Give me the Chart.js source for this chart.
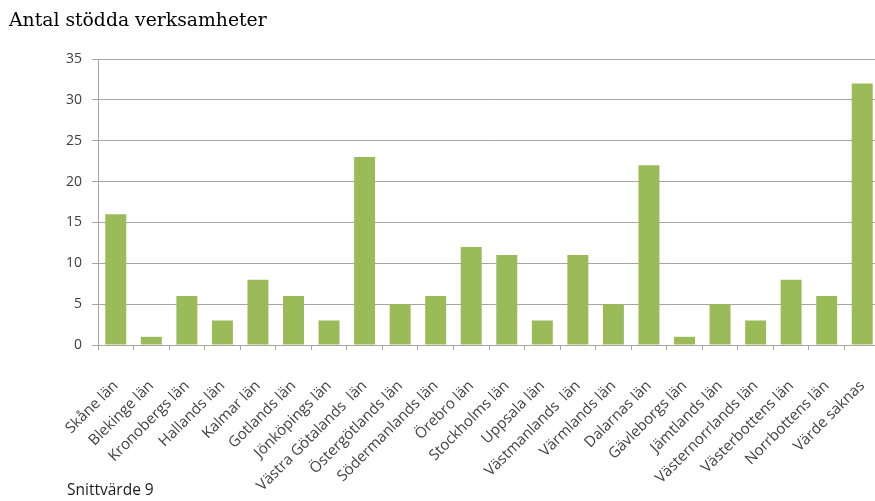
<!DOCTYPE html>
<html>
<head>
<meta charset="utf-8">
<script src="https://cdn.jsdelivr.net/npm/chart.js@4/dist/chart.umd.min.js"></script>
<style>
  html, body { margin: 0; padding: 0; background: #fff; overflow: hidden; }
  #wrap { position: relative; width: 875px; height: 501px; overflow: hidden; }
  #chartBox { position: absolute; left: 0; top: 0; width: 880px; height: 501px; }
  #title { position: absolute; left: 9px; top: 11px; font: 18.8px/1 "DejaVu Serif", serif; color: #000; white-space: nowrap; }
  #note { position: absolute; left: 67px; top: 482px; font: 15.5px/1 "Open Sans", sans-serif; color: #1a1a1a; white-space: nowrap; }
</style>
</head>
<body>
<div id="wrap">
  <div id="chartBox"><canvas id="c" width="880" height="501"></canvas></div>
  <div id="title">Antal stödda verksamheter</div>
  <div id="note">Snittvärde 9</div>
</div>
<script>
// Counties (län) and number of supported businesses per county
const categories = [
  "Skåne län", "Blekinge län", "Kronobergs län", "Hallands län", "Kalmar län",
  "Gotlands län", "Jönköpings län", "Västra Götalands  län", "Östergötlands län",
  "Södermanlands län", "Örebro län", "Stockholms län", "Uppsala län",
  "Västmanlands  län", "Värmlands län", "Dalarnas län", "Gävleborgs län",
  "Jämtlands län", "Västernorrlands län", "Västerbottens län", "Norrbottens län",
  "Värde saknas"
];
const counts = [16, 1, 6, 3, 8, 6, 3, 23, 5, 6, 12, 11, 3, 11, 5, 22, 1, 5, 3, 8, 6, 32];
const yTicks = [0, 5, 10, 15, 20, 25, 30, 35];

const tickColor = "#404040";
const gridColor = "#a6a6a6";

new Chart(document.getElementById("c"), {
  type: "bar",
  data: {
    labels: categories,
    datasets: [{
      data: counts,
      backgroundColor: "#9bbb59",
      borderWidth: 0,
      categoryPercentage: 1.0,
      barPercentage: 0.59
    }]
  },
  options: {
    responsive: false,
    animation: false,
    events: [],
    layout: { padding: { top: 59, left: 0, right: 0, bottom: 0 } },
    plugins: { legend: { display: false }, tooltip: { enabled: false } },
    scales: {
      x: {
        grid: {
          offset: true,
          drawOnChartArea: false,
          color: gridColor,
          tickLength: 5
        },
        border: { color: gridColor, width: 1 },
        ticks: {
          font: { family: "Open Sans", size: 15 },
          color: tickColor,
          minRotation: 45,
          maxRotation: 45,
          autoSkip: false,
          padding: 27
        },
        afterFit: s => {
          s.height = 156;
          s.paddingLeft = 0;
          s.paddingRight = 0;
        }
      },
      y: {
        min: 0,
        max: 35,
        afterBuildTicks: s => { s.ticks = yTicks.map(v => ({ value: v })); },
        grid: { color: gridColor, tickLength: 6 },
        border: { color: gridColor, width: 1 },
        ticks: { font: { family: "Open Sans", size: 14 }, color: tickColor, padding: 10 },
        afterFit: s => { s.width = 98; }
      }
    }
  }
});
</script>
</body>
</html>
